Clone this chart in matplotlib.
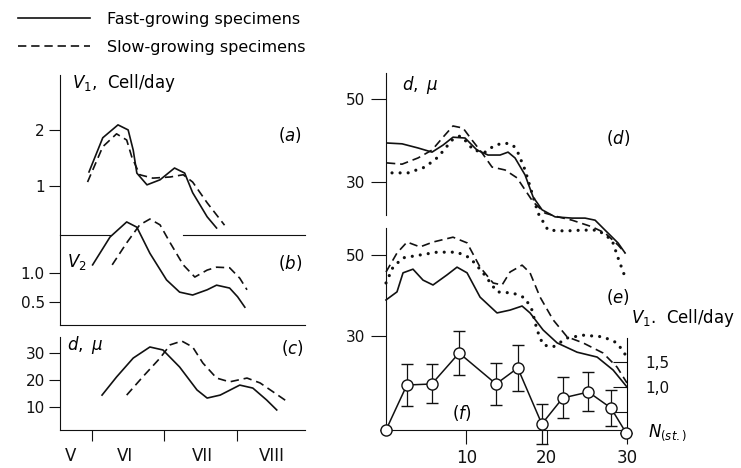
import matplotlib
matplotlib.use('Agg')
import matplotlib.pyplot as plt

plt.rcParams['font.family'] = 'DejaVu Sans'
plt.rcParams['mathtext.fontset'] = 'dejavusans'
plt.rcParams['lines.scale_dashes'] = False

# ---- left block: growth over the months (x in months, 6 = start of VI) ----
a_fast_x = [5.96, 6.15, 6.36, 6.50, 6.57, 6.62, 6.76, 6.94, 7.14, 7.28, 7.39, 7.59, 7.72]
a_fast_y = [1.25, 1.86, 2.09, 2.00, 1.64, 1.23, 1.02, 1.11, 1.32, 1.23, 0.88, 0.45, 0.25]
a_slow_x = [5.94, 6.15, 6.34, 6.48, 6.55, 6.66, 6.84, 7.08, 7.26, 7.39, 7.59, 7.83]
a_slow_y = [1.07, 1.70, 1.93, 1.82, 1.52, 1.20, 1.14, 1.16, 1.20, 1.07, 0.70, 0.30]

b_fast_x = [6.01, 6.25, 6.48, 6.62, 6.80, 7.03, 7.21, 7.39, 7.59, 7.72, 7.90, 8.01, 8.11]
b_fast_y = [1.14, 1.62, 1.88, 1.79, 1.34, 0.88, 0.67, 0.62, 0.71, 0.79, 0.74, 0.59, 0.41]
b_slow_x = [6.28, 6.48, 6.66, 6.80, 6.94, 7.08, 7.26, 7.42, 7.59, 7.72, 7.90, 8.04, 8.14]
b_slow_y = [1.14, 1.52, 1.83, 1.93, 1.83, 1.52, 1.14, 0.93, 1.05, 1.10, 1.09, 0.91, 0.71]

c_fast_x = [6.14, 6.34, 6.57, 6.80, 6.98, 7.21, 7.45, 7.59, 7.77, 8.04, 8.22, 8.41, 8.55]
c_fast_y = [14.4, 21.1, 28.1, 32.2, 31.1, 24.8, 16.3, 13.3, 14.4, 18.1, 17.0, 12.6, 8.9]
c_slow_x = [6.48, 6.70, 6.94, 7.08, 7.24, 7.39, 7.53, 7.72, 7.90, 8.14, 8.32, 8.50, 8.70]
c_slow_y = [14.4, 21.1, 28.1, 33.0, 34.4, 32.2, 26.3, 20.7, 19.3, 20.7, 18.9, 15.6, 11.9]

month_ticks = [6, 7, 8]
month_label_pos = [5.70, 6.46, 7.53, 8.48]
month_labels = ['V', 'VI', 'VII', 'VIII']

# ---- right block: along the sample (x = 0..30) ----
d_solid_x = [0.12, 2.0, 3.99, 5.73, 7.10, 8.34, 9.84, 11.33, 12.70, 14.2, 15.19, 16.06,
             17.31, 18.31, 19.43, 21.05, 23.16, 24.78, 26.03, 27.27, 28.89, 29.76]
d_solid_y = [39.4, 39.2, 38.2, 37.2, 38.9, 40.8, 40.6, 37.7, 36.5, 36.5, 37.2, 35.8,
             31.7, 26.4, 23.3, 21.6, 21.3, 21.3, 20.8, 18.4, 15.3, 12.9]
d_dash_x = [0.12, 2.0, 3.99, 5.73, 7.10, 8.34, 9.59, 10.71, 11.96, 13.20, 14.82, 16.31,
            17.31, 18.31, 19.80, 21.42, 23.16, 25.65, 27.27, 28.89, 29.76]
d_dash_y = [34.6, 34.3, 35.8, 37.7, 40.8, 43.5, 43.0, 40.1, 37.0, 33.6, 32.9, 31.0,
            28.1, 25.2, 22.5, 21.6, 20.8, 19.2, 17.7, 14.8, 12.9]
d_dot_x = [0.75, 2.74, 4.86, 6.48, 8.22, 9.22, 10.21, 10.83, 12.33, 13.57, 14.82, 15.82,
           16.44, 17.31, 18.18, 18.93, 20.17, 22.29, 24.41, 26.40, 28.14, 28.89, 29.76]
d_dot_y = [32.2, 32.2, 33.6, 36.0, 40.1, 41.1, 39.4, 37.7, 37.2, 38.9, 39.4, 38.9,
           37.0, 32.9, 27.3, 22.5, 18.4, 18.2, 18.4, 18.4, 16.0, 11.7, 7.1]

e_solid_x = [0.0, 1.37, 2.12, 3.36, 4.61, 5.85, 7.60, 8.84, 10.09, 11.71, 13.82, 15.44,
             16.94, 17.93, 19.55, 21.30, 23.79, 26.28, 28.27, 30.0]
e_solid_y = [38.9, 40.9, 45.6, 46.5, 43.8, 42.6, 45.1, 47.0, 45.6, 39.6, 35.7, 36.4,
             37.4, 35.7, 31.5, 28.3, 26.0, 24.8, 21.6, 17.4]
e_dash_x = [0.0, 1.37, 2.62, 4.23, 5.85, 8.34, 10.09, 11.71, 13.33, 14.45, 15.44, 16.94,
            17.93, 19.18, 20.80, 22.54, 24.53, 27.02, 28.77, 30.0]
e_dash_y = [45.8, 50.5, 53.2, 52.0, 53.2, 54.4, 53.0, 47.0, 43.1, 42.6, 45.8, 47.5,
            45.6, 39.6, 34.0, 29.8, 28.3, 25.8, 22.3, 18.4]
e_dot_x = [0.0, 0.87, 2.12, 4.23, 6.35, 8.84, 10.46, 12.08, 13.82, 15.82, 17.31, 18.18,
           18.80, 19.55, 20.80, 22.54, 24.53, 27.02, 28.77, 30.0]
e_dot_y = [43.1, 47.0, 49.3, 50.0, 50.7, 50.7, 49.3, 45.6, 40.9, 40.6, 39.4, 36.4,
           31.5, 27.8, 27.3, 29.5, 30.2, 29.8, 28.3, 24.8]

f_x = [0.0, 2.6, 5.7, 9.1, 13.7, 16.4, 19.4, 22.0, 25.2, 28.0, 29.9]
f_v = [0.14, 1.04, 1.06, 1.68, 1.06, 1.38, 0.26, 0.78, 0.90, 0.58, 0.08]
f_err = [0.0, 0.42, 0.39, 0.44, 0.42, 0.46, 0.40, 0.41, 0.39, 0.36, 0.0]

W, H = 741, 468
fig = plt.figure(figsize=(W / 100, H / 100), dpi=100)

LW = 1.2
DASH = (0, (6, 3.5))
DOT = (0, (0.01, 5.8))
K = '#111111'


def px_axes(x0, x1, y0, y1):
    ax = fig.add_axes([x0 / W, 1 - y1 / H, (x1 - x0) / W, (y1 - y0) / H])
    ax.set_facecolor('none')
    for s in ax.spines.values():
        s.set_linewidth(0.8)
        s.set_color(K)
    return ax


def solid(ax, x, y):
    return ax.plot(x, y, color=K, lw=LW, clip_on=False)[0]


def dashed(ax, x, y):
    return ax.plot(x, y, color=K, lw=LW, linestyle=DASH, clip_on=False)[0]


def dotted(ax, x, y):
    return ax.plot(x, y, color=K, lw=2.3, linestyle=DOT, dash_capstyle='round', clip_on=False)[0]


def style_y(ax, ticks, labels):
    ax.set_yticks(ticks)
    ax.set_yticklabels(labels)
    ax.tick_params(axis='y', direction='out', length=8, width=0.8, pad=3, labelsize=11, colors=K)


# ---- panel (a)
ax_a = px_axes(60, 305, 75, 235)
ax_a.set_xlim(5.56, 8.94)
ax_a.set_ylim(0.125, 2.98)
for s in ['top', 'right', 'bottom']:
    ax_a.spines[s].set_visible(False)
ax_a.set_xticks([])
style_y(ax_a, [1, 2], ['1', '2'])
fast_line = solid(ax_a, a_fast_x, a_fast_y)
slow_line = dashed(ax_a, a_slow_x, a_slow_y)
ax_a.axhline(0.125, xmin=0, xmax=0.205, color=K, lw=0.8, clip_on=False)
ax_a.axhline(0.125, xmin=0.50, xmax=1, color=K, lw=0.8, clip_on=False)
ax_a.text(0.049, 0.95, r'$V_1$,  Cell/day', transform=ax_a.transAxes, fontsize=12, va='center')
ax_a.text(0.94, 0.625, r'$(a)$', transform=ax_a.transAxes, fontsize=12, ha='center', va='center')

# ---- panel (b)
ax_b = px_axes(60, 305, 235, 325)
ax_b.set_xlim(5.56, 8.94)
ax_b.set_ylim(0.103, 1.655)
for s in ['top', 'right']:
    ax_b.spines[s].set_visible(False)
ax_b.set_xticks([])
style_y(ax_b, [0.5, 1.0], ['0.5', '1.0'])
solid(ax_b, b_fast_x, b_fast_y)
dashed(ax_b, b_slow_x, b_slow_y)
ax_b.text(0.07, 0.70, r'$V_2$', transform=ax_b.transAxes, fontsize=12, ha='center', va='center')
ax_b.text(0.94, 0.69, r'$(b)$', transform=ax_b.transAxes, fontsize=12, ha='center', va='center')

# ---- panel (c)
ax_c = px_axes(60, 305, 337, 430)
ax_c.set_xlim(5.56, 8.94)
ax_c.set_ylim(1.48, 35.9)
for s in ['top', 'right']:
    ax_c.spines[s].set_visible(False)
style_y(ax_c, [10, 20, 30], ['10', '20', '30'])
ax_c.set_xticks(month_ticks)
ax_c.set_xticklabels([])
ax_c.set_xticks(month_label_pos, minor=True)
ax_c.set_xticklabels(month_labels, minor=True)
ax_c.tick_params(axis='x', which='major', direction='out', length=8, width=0.8, colors=K)
ax_c.tick_params(axis='x', which='minor', length=0, pad=12, labelsize=12, colors=K)
solid(ax_c, c_fast_x, c_fast_y)
dashed(ax_c, c_slow_x, c_slow_y)
ax_c.text(0.03, 0.91, r'$d,\ \mu$', transform=ax_c.transAxes, fontsize=12, va='center')
ax_c.text(0.95, 0.88, r'$(c)$', transform=ax_c.transAxes, fontsize=12, ha='center', va='center')

# ---- panel (d)
ax_d = px_axes(386, 627, 73, 215)
ax_d.set_xlim(0, 30)
ax_d.set_ylim(22.05, 56.27)
for s in ['top', 'right', 'bottom']:
    ax_d.spines[s].set_visible(False)
ax_d.set_xticks([])
style_y(ax_d, [30, 50], ['30', '50'])
ax_d.tick_params(axis='y', length=11, pad=4)
solid(ax_d, d_solid_x, d_solid_y)
dashed(ax_d, d_dash_x, d_dash_y)
dotted(ax_d, d_dot_x, d_dot_y)
ax_d.text(0.066, 0.915, r'$d,\ \mu$', transform=ax_d.transAxes, fontsize=12, va='center')
ax_d.text(0.963, 0.54, r'$(d)$', transform=ax_d.transAxes, fontsize=12, ha='center', va='center')

# ---- panel (e)
ax_e = px_axes(386, 627, 228, 430)
ax_e.set_xlim(0, 30)
ax_e.set_ylim(6.79, 56.67)
for s in ['top', 'right']:
    ax_e.spines[s].set_visible(False)
style_y(ax_e, [30, 50], ['30', '50'])
ax_e.tick_params(axis='y', length=11, pad=4)
ax_e.set_xticks([10, 20, 30])
ax_e.tick_params(axis='x', direction='out', length=10, width=0.8, pad=4, labelsize=12, colors=K)
solid(ax_e, e_solid_x, e_solid_y)
dashed(ax_e, e_dash_x, e_dash_y)
dotted(ax_e, e_dot_x, e_dot_y)
ax_e.text(0.963, 0.658, r'$(e)$', transform=ax_e.transAxes, fontsize=12, ha='center', va='center')

# ---- panel (f), right scale
ax_f = ax_e.twinx()
ax_f.set_facecolor('none')
ax_f.set_ylim(0.14, 4.18)
for s in ['top', 'left', 'bottom']:
    ax_f.spines[s].set_visible(False)
ax_f.spines['right'].set_bounds(0.14, 1.98)
ax_f.spines['right'].set_linewidth(0.8)
ax_f.set_yticks([0.5, 1.0, 1.5])
ax_f.set_yticklabels(['', '1,0', '1,5'])
ax_f.tick_params(axis='y', direction='in', length=10, width=0.8, pad=13, labelsize=11, colors=K)
ax_f.errorbar(f_x, f_v, yerr=f_err, color=K, lw=1.1, elinewidth=0.9, capsize=4, capthick=0.9,
              marker='o', markersize=8, markerfacecolor='white', markeredgecolor=K,
              markeredgewidth=1.0, clip_on=False, zorder=3)
ax_f.text(0.315, 0.084, r'$(f)$', transform=ax_f.transAxes, fontsize=12, ha='center', va='center')
ax_f.text(1.017, 0.554, r'$V_1$.  Cell/day', transform=ax_f.transAxes, fontsize=12, va='center')
ax_f.text(1.087, -0.015, r'$N_{(st.)}$', transform=ax_f.transAxes, fontsize=12, va='center')

# ---- legend at the top
fig.legend(handles=[fast_line, slow_line],
           labels=['Fast-growing specimens', 'Slow-growing specimens'],
           loc='upper left', bbox_to_anchor=(18 / W, 1 - 12 / H), frameon=False,
           fontsize=11.5, handlelength=4.5, handletextpad=1.05, labelspacing=0.8,
           borderpad=0, borderaxespad=0)

fig.savefig('out.png', dpi=100)
